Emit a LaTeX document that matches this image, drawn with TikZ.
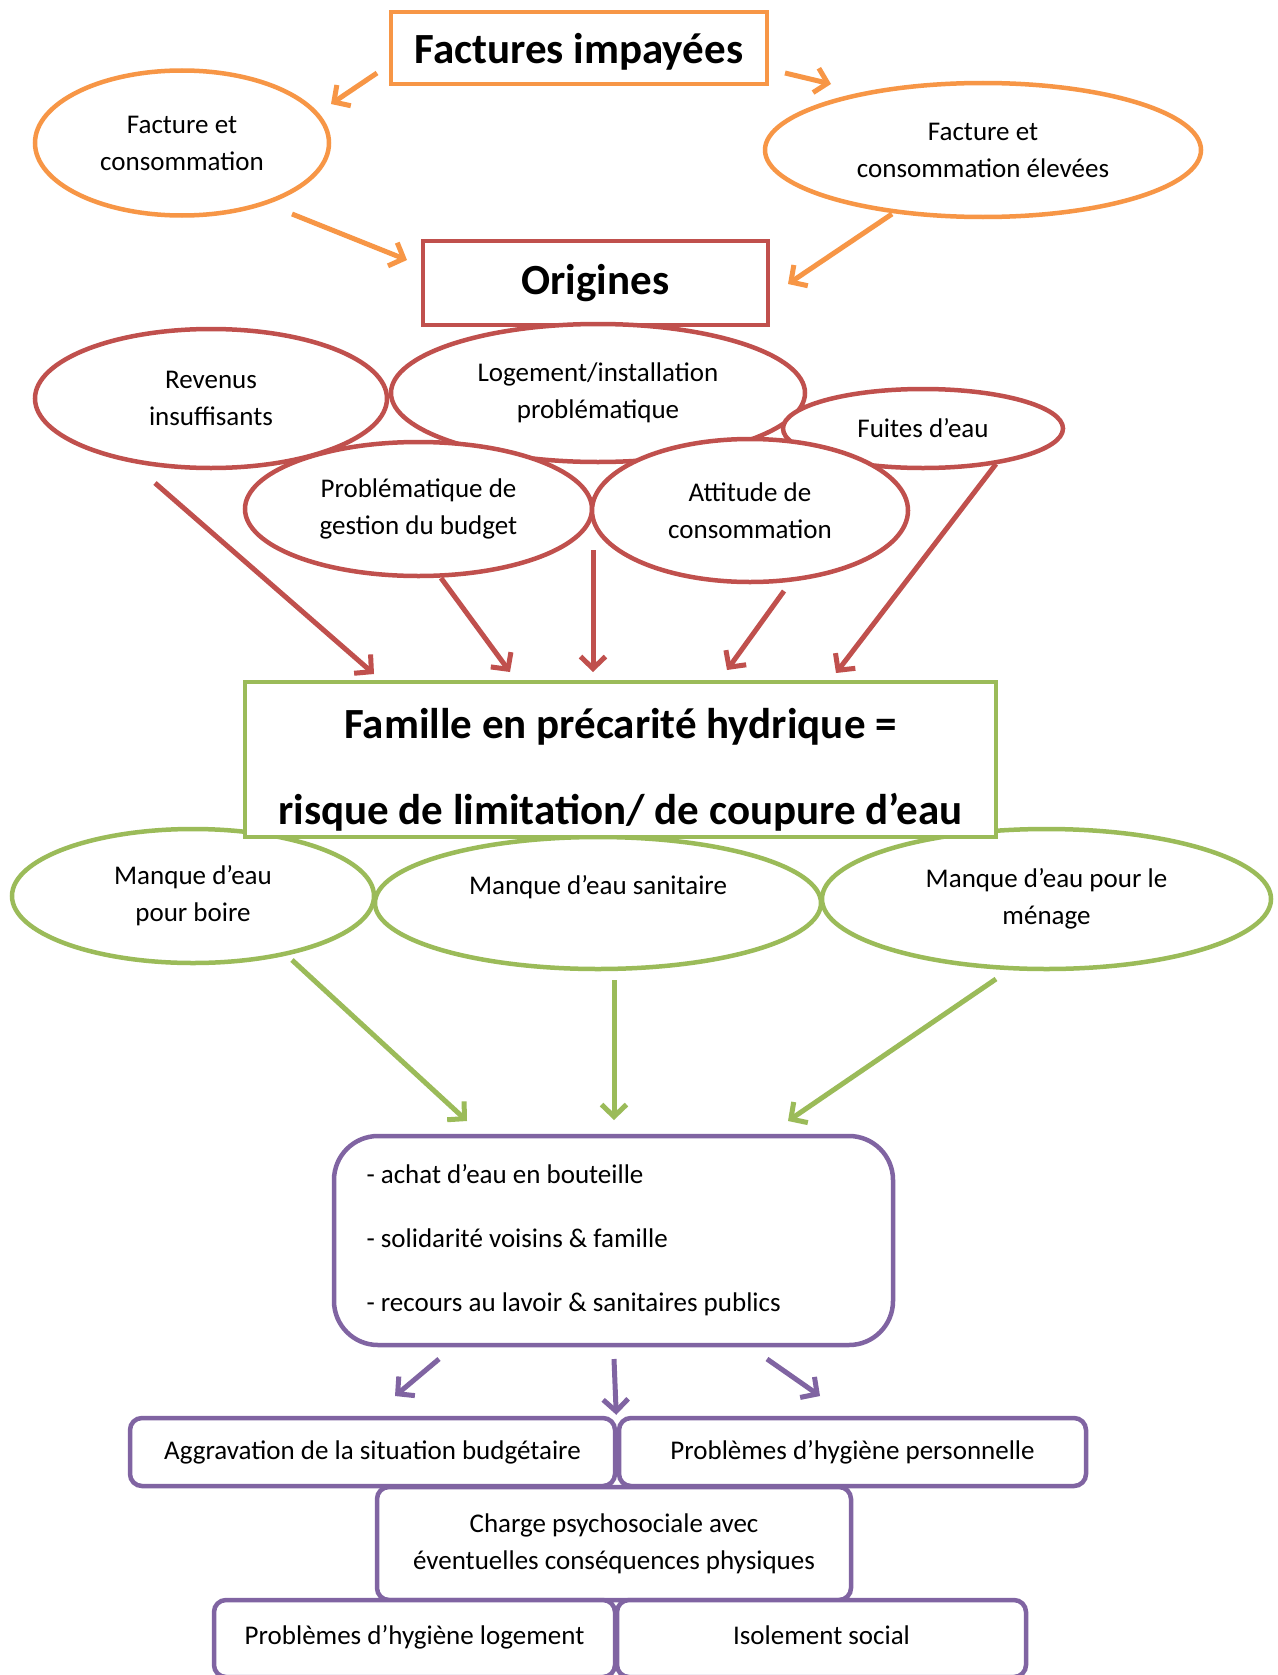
\documentclass[tikz,border=0pt]{standalone}
\usepackage{fontspec}
\setmainfont{Carlito}
\usetikzlibrary{arrows.meta,shapes.geometric}
\definecolor{corange}{HTML}{F79646}
\definecolor{cred}{HTML}{C0504D}
\definecolor{cgreen}{HTML}{9BBB59}
\definecolor{cpurple}{HTML}{8064A2}
\tikzset{
  body/.style={font=\fontsize{27}{37}\selectfont, align=center},
  oval/.style={ellipse, draw, line width=4.5pt, fill=white, inner sep=0pt, body},
  titlebox/.style={rectangle, draw, line width=4.5pt, fill=white, inner sep=0pt},
  pbox/.style={rectangle, rounded corners=12pt, draw=cpurple, line width=4.5pt, fill=white, inner sep=0pt, body},
  conn/.style={line width=5pt, -{Straight Barb[length=12pt,width=25pt]}},
}
\begin{document}
\begin{tikzpicture}[x=1pt,y=-1pt]
\useasboundingbox[fill=white] (0,0) rectangle (1277,1675);

% top level
\node[titlebox, draw=corange, minimum width=376pt, minimum height=72pt, text height=36pt, text depth=4pt,
      font=\fontsize{43}{48}\selectfont\bfseries] (imp) at (579,48) {Factures impayées};
\node[oval, draw=corange, minimum width=294pt, minimum height=145pt] (fc1) at (182,143) {Facture et\\consommation};
\node[oval, draw=corange, minimum width=436pt, minimum height=134pt] (fc2) at (983,150) {Facture et\\consommation élevées};
\node[titlebox, draw=cred, minimum width=345pt, minimum height=84pt, text height=30pt, text depth=8pt,
      font=\fontsize{43}{48}\selectfont\bfseries] (orig) at (595.5,283) {Origines};

% origins
\node[oval, draw=cred, minimum width=352pt, minimum height=139pt] (rev) at (211,398.5) {Revenus\\insuffisants};
\node[oval, draw=cred, minimum width=414pt, minimum height=138pt] (loge) at (598,393) {Logement/installation\\problématique};
\node[oval, draw=cred, minimum width=280pt, minimum height=79pt] (fuites) at (923,428.5) {Fuites d’eau};
\node[oval, draw=cred, minimum width=347pt, minimum height=134pt] (budget) at (418.5,509) {Problématique de\\gestion du budget};
\node[oval, draw=cred, minimum width=316pt, minimum height=143pt] (attitude) at (750,510.5) {Attitude de\\consommation};

% consequences
\node[oval, draw=cgreen, minimum width=362pt, minimum height=134pt] (boire) at (193,896) {Manque d’eau\\pour boire};
\node[oval, draw=cgreen, minimum width=446pt, minimum height=132pt] (sanit) at (598,903) {Manque d’eau sanitaire\\\mbox{}};
\node[oval, draw=cgreen, minimum width=449pt, minimum height=140pt] (menage) at (1046.5,899) {Manque d’eau pour le\\ménage};
\node[titlebox, draw=cgreen, minimum width=751pt, minimum height=155pt, align=center,
      font=\fontsize{43}{86}\selectfont\bfseries] (famille) at (620.5,759.5)
      {\rule{0pt}{51pt}Famille en précarité hydrique =\\risque de limitation/ de coupure d’eau};

% solutions
\node[pbox, rounded corners=44pt, minimum width=559pt, minimum height=209pt, text width=494pt,
      align=flush left, font=\fontsize{27}{64}\selectfont] (sol) at (613.5,1240.5)
      {- achat d’eau en bouteille\\- solidarité voisins \& famille\\- recours au lavoir \& sanitaires publics};

% effects
\node[pbox, minimum width=485pt, minimum height=68pt] (aggr) at (372.5,1452) {Aggravation de la situation budgétaire};
\node[pbox, minimum width=467pt, minimum height=68pt] (hygp) at (852.5,1452) {Problèmes d’hygiène personnelle};
\node[pbox, minimum width=474pt, minimum height=113pt] (charge) at (614,1543.5) {Charge psychosociale avec\\éventuelles conséquences physiques};
\node[pbox, minimum width=401pt, minimum height=77pt, text height=19pt, text depth=7pt] (hygl) at (414.5,1638.5) {Problèmes d’hygiène logement};
\node[pbox, minimum width=409pt, minimum height=77pt, text height=19pt, text depth=7pt] (isol) at (821.5,1638.5) {Isolement social};

% orange arrows
\draw[conn, corange] ([shift={(-202,25)}]imp.center) -- ([shift={(149,-39)}]fc1.center);
\draw[conn, corange] ([shift={(206,25)}]imp.center) -- ([shift={(-152,-66)}]fc2.center);
\draw[conn, corange] ([shift={(110,71)}]fc1.center) -- ([shift={(-188.5,-23)}]orig.center);
\draw[conn, corange] ([shift={(-91,64)}]fc2.center) -- ([shift={(192.5,1)}]orig.center);

% red arrows
\draw[conn, cred] ([shift={(-56,84.5)}]rev.center) -- ([shift={(-246.5,-85.5)}]famille.center);
\draw[conn, cred] ([shift={(22.5,69)}]budget.center) -- ([shift={(-110.5,-87.5)}]famille.center);
\draw[conn, cred] ([shift={(-5,157)}]loge.center) -- ([shift={(-27.5,-87.5)}]famille.center);
\draw[conn, cred] ([shift={(34,80.5)}]attitude.center) -- ([shift={(106.5,-89.5)}]famille.center);
\draw[conn, cred] ([shift={(73,35.5)}]fuites.center) -- ([shift={(215.5,-86.5)}]famille.center);

% green arrows
\draw[conn, cgreen] ([shift={(99,64)}]boire.center) -- ([shift={(-146.5,-119.5)}]sol.center);
\draw[conn, cgreen] ([shift={(16,77)}]sanit.center) -- ([shift={(0.5,-120.5)}]sol.center);
\draw[conn, cgreen] ([shift={(-50.5,80)}]menage.center) -- ([shift={(174.5,-119.5)}]sol.center);

% purple arrows
\draw[conn, cpurple] ([shift={(-174.5,118.5)}]sol.center) -- ([shift={(22.5,-56)}]aggr.center);
\draw[conn, cpurple] ([shift={(0.5,118.5)}]sol.center) -- ([shift={(-1,-1)}]aggr.north east);
\draw[conn, cpurple] ([shift={(153.5,118.5)}]sol.center) -- ([shift={(-32.5,-56)}]hygp.center);
\end{tikzpicture}
\end{document}
